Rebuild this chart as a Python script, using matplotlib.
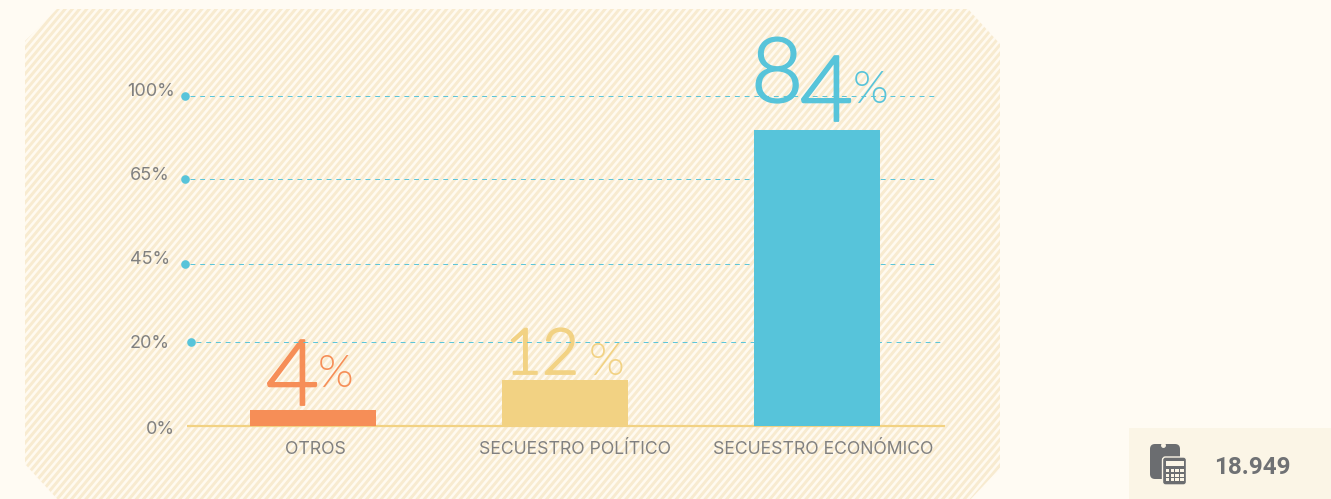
import matplotlib
matplotlib.use("Agg")
import matplotlib.patheffects as pe
import matplotlib.pyplot as plt
import numpy as np
from matplotlib.collections import LineCollection
from matplotlib.patches import FancyBboxPatch, Polygon, Rectangle
from matplotlib.transforms import blended_transform_factory

categories = ["OTROS", "SECUESTRO POLÍTICO", "SECUESTRO ECONÓMICO"]
shown_values = [4, 12, 84]
bar_heights = [4.4, 12.9, 84.0]  # as drawn in the picture, a bit off the printed numbers
bar_colors = ["#f68e57", "#f2d283", "#57c4da"]
tick_labels = ["0%", "20%", "45%", "65%", "100%"]
tick_levels = [0, 23.8, 45.9, 70.1, 93.7]
total_label = "18.949"

BG = "#fffbf3"
GREY = "#808080"
BLUE = "#57c4da"
SANS = ["Inter", "DejaVu Sans"]
BIG = ["Lato", "DejaVu Sans"]

fig = plt.figure(figsize=(13.31, 4.99), dpi=100, facecolor=BG)

# overlay in pixel coordinates for the background and the decoration
deco = fig.add_axes([0, 0, 1, 1])
deco.set_xlim(0, 1331)
deco.set_ylim(499, 0)
deco.axis("off")

# striped octagon
shape = Polygon([(25, 41), (57, 9), (968, 9), (1000, 44), (1000, 468), (968, 502),
                 (60, 502), (25, 464)], closed=True, fc="#fffaf0", ec="none", zorder=1)
deco.add_patch(shape)
stripes = [[(x, 520), (x + 520 / np.tan(np.radians(50)), 0)] for x in np.arange(-450, 1010, 7.2)]
lc = LineCollection(stripes, colors="#f8ebd0", linewidths=2.1, zorder=1.5)
deco.add_collection(lc)
lc.set_clip_path(shape)

# bars, 3.515 px per percent
ax = fig.add_axes([187 / 1331, (499 - 425.5) / 499, 758 / 1331, 360 / 499])
ax.patch.set_alpha(0)
ax.set_xlim(-0.5, 2.508)
ax.set_ylim(0, 360 / 3.515)
ax.axis("off")
ax.bar(range(3), bar_heights, width=0.5, color=bar_colors, zorder=3)

# grid lines with dots, the 20% one sits a little further right
tr = blended_transform_factory(deco.transData, ax.transData)
for i in range(1, len(tick_levels)):
    x_dot = 191 if i == 1 else 185
    x_end = 941 if i == 1 else 935
    ax.plot([x_dot + 5, x_end], [tick_levels[i]] * 2, transform=tr, color=BLUE, lw=0.7,
            ls=(0, (5, 5)), zorder=2, clip_on=False)
    ax.plot([x_dot], [tick_levels[i]], transform=tr, marker="o", ms=6.2, color=BLUE, mew=0,
            zorder=3, clip_on=False)

label_x = [174.5, 170, 170, 170, 174.5]
label_y = [429, 343, 259, 175, 91]
for txt, x, y in zip(tick_labels, label_x, label_y):
    deco.text(x, y, txt, ha="right", va="center", fontsize=13, color=GREY, family=SANS, zorder=4)

# baseline
deco.plot([187, 945], [426, 426], color="#f2d283", lw=1.6, zorder=4, solid_capstyle="butt")

for pos, cat in zip([315, 575, 823], categories):
    deco.text(pos, 449, cat, ha="center", va="center", fontsize=12.7, color=GREY, family=SANS, zorder=4)

# big numbers use old style figures, so every digit gets its own size and drop
digit_style = {"8": (65, 0, 49), "4": (66, 19, 0), "1": (46, 0, 37), "2": (46, 0, 0)}
start_x = [266, 505, 751]
base_y = [386, 374, 102]
pct_x = [318, 589, 853]
for val, col, x0, yb, xp in zip(shown_values, bar_colors, start_x, base_y, pct_x):
    x = x0
    for ch in str(val):
        size, drop, adv = digit_style[ch]
        t = deco.text(x, yb + drop, ch, ha="left", va="baseline", fontsize=size, color=col,
                      family=BIG, fontweight=300, zorder=5)
        t.set_path_effects([pe.withStroke(linewidth=1.3, foreground=col)])
        x += adv
    deco.text(xp, yb + 1, "%", ha="left", va="baseline", fontsize=33, color=col,
              family=BIG, fontweight=300, zorder=5)

# total box with calculator icon
BOX = "#fbf5e6"
ICON = "#6b6d70"
deco.add_patch(Rectangle((1129, 428), 202, 71, fc=BOX, ec="none", zorder=1))
deco.add_patch(FancyBboxPatch((1153, 447), 24, 29, boxstyle="round,pad=3,rounding_size=5", fc=ICON, ec="none", zorder=2))
deco.add_patch(FancyBboxPatch((1163.5, 458), 22, 26, boxstyle="round,pad=1,rounding_size=3", fc=ICON, ec=BOX, lw=1, zorder=3))
deco.add_patch(Rectangle((1166, 461), 18, 5, fc=BOX, ec="none", zorder=4))
for r in range(3):
    for c in range(4):
        deco.add_patch(Rectangle((1166 + c * 4.7, 469 + r * 4.7), 3.4, 3, fc=BOX, ec="none", zorder=4))
deco.plot([1163], [445], marker="o", ms=2.5, color=BOX, zorder=3)
deco.text(1252.5, 467, total_label, ha="center", va="center", fontsize=17.5, color="#6f7174",
          family=["Roboto", "DejaVu Sans"], fontweight="bold", zorder=4)

fig.savefig("out.png", dpi=100, facecolor=BG)
